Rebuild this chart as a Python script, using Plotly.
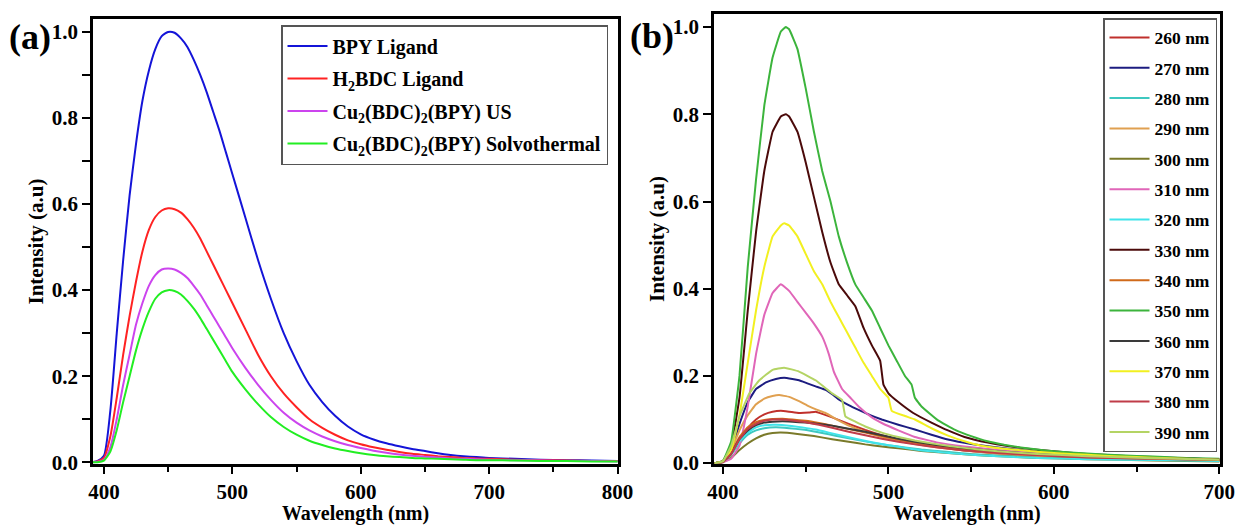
import plotly.graph_objects as go

FONT = "Liberation Serif"

# ---------------- Panel (a) data ----------------
wl_a = [390, 395, 400, 405, 410, 415, 420, 425, 430, 435, 440, 445, 450, 455, 460, 465, 470,
        475, 480, 485, 490, 495, 500, 510, 520, 530, 540, 550, 560, 570, 580, 590, 600, 610,
        620, 630, 640, 650, 660, 670, 680, 690, 700, 720, 740, 760, 780, 800]
bpy = [0.0, 0.003, 0.015, 0.12, 0.30, 0.47, 0.62, 0.74, 0.84, 0.91, 0.96, 0.99, 1.0, 0.998,
       0.985, 0.965, 0.935, 0.90, 0.86, 0.815, 0.77, 0.72, 0.67, 0.57, 0.47, 0.38, 0.30, 0.235,
       0.18, 0.14, 0.108, 0.083, 0.065, 0.053, 0.044, 0.037, 0.031, 0.026, 0.021, 0.017, 0.014,
       0.012, 0.010, 0.008, 0.006, 0.005, 0.004, 0.003]
h2bdc = [0.0, 0.002, 0.01, 0.06, 0.15, 0.25, 0.34, 0.42, 0.49, 0.54, 0.57, 0.585, 0.59, 0.588,
         0.58, 0.565, 0.545, 0.52, 0.49, 0.46, 0.43, 0.40, 0.37, 0.31, 0.25, 0.20, 0.16, 0.128,
         0.10, 0.08, 0.064, 0.051, 0.042, 0.035, 0.029, 0.024, 0.02, 0.017, 0.014, 0.012, 0.010,
         0.009, 0.008, 0.006, 0.005, 0.004, 0.003, 0.003]
cu_us = [0.0, 0.001, 0.006, 0.035, 0.10, 0.18, 0.25, 0.32, 0.37, 0.41, 0.435, 0.448, 0.45, 0.448,
         0.44, 0.428, 0.41, 0.39, 0.365, 0.34, 0.315, 0.29, 0.265, 0.22, 0.18, 0.145, 0.115, 0.092,
         0.074, 0.06, 0.049, 0.04, 0.033, 0.027, 0.022, 0.018, 0.015, 0.013, 0.011, 0.009, 0.008,
         0.007, 0.006, 0.005, 0.004, 0.003, 0.003, 0.002]
cu_solvo = [0.0, 0.0, 0.004, 0.025, 0.075, 0.14, 0.20, 0.26, 0.31, 0.35, 0.38, 0.395, 0.40, 0.398,
            0.39, 0.375, 0.357, 0.335, 0.31, 0.285, 0.26, 0.235, 0.21, 0.17, 0.135, 0.105, 0.082,
            0.064, 0.05, 0.04, 0.032, 0.026, 0.021, 0.017, 0.014, 0.012, 0.010, 0.009, 0.008, 0.007,
            0.006, 0.005, 0.005, 0.004, 0.003, 0.003, 0.002, 0.002]

names_a = ["BPY Ligand", "H<sub>2</sub>BDC Ligand", "Cu<sub>2</sub>(BDC)<sub>2</sub>(BPY) US",
           "Cu<sub>2</sub>(BDC)<sub>2</sub>(BPY) Solvothermal"]
series_a = [bpy, h2bdc, cu_us, cu_solvo]
colors_a = ["#1414d8", "#ff2222", "#cc44ee", "#22ee22"]

# ---------------- Panel (b) data ----------------
wl_260 = [395, 400, 405, 410, 415, 420, 425, 430, 435, 440, 446, 452, 456, 460, 466, 476, 486, 496,
          506, 516, 530, 546, 566, 586, 610, 640, 670, 700]
int_260 = [0, 0.003, 0.02, 0.05, 0.08, 0.10, 0.112, 0.118, 0.12, 0.118, 0.115, 0.116, 0.118, 0.113,
           0.105, 0.09, 0.076, 0.064, 0.054, 0.046, 0.037, 0.029, 0.022, 0.017, 0.013, 0.010, 0.008, 0.006]
wl_270 = [395, 400, 405, 410, 415, 420, 426, 432, 437, 442, 446, 451, 456, 462, 466, 470, 476, 482,
          489, 496, 506, 516, 526, 536, 550, 570, 590, 610, 640, 670, 700]
int_270 = [0, 0.004, 0.03, 0.09, 0.14, 0.17, 0.185, 0.193, 0.196, 0.193, 0.19, 0.183, 0.176, 0.168,
           0.158, 0.146, 0.133, 0.122, 0.11, 0.10, 0.088, 0.077, 0.065, 0.054, 0.044, 0.034, 0.026,
           0.02, 0.015, 0.011, 0.008]
wl_280 = [395, 400, 405, 410, 415, 420, 425, 432, 440, 448, 456, 464, 472, 480, 490, 500, 510, 520,
          535, 550, 570, 590, 620, 660, 700]
int_280 = [0, 0.003, 0.02, 0.045, 0.065, 0.075, 0.08, 0.082, 0.08, 0.077, 0.072, 0.066, 0.06, 0.054,
           0.047, 0.041, 0.036, 0.031, 0.026, 0.021, 0.017, 0.014, 0.011, 0.008, 0.006]
wl_290 = [395, 400, 405, 410, 415, 420, 425, 430, 434, 440, 446, 452, 457, 462, 469, 476, 486, 496,
          506, 516, 530, 546, 566, 590, 620, 660, 700]
int_290 = [0, 0.004, 0.03, 0.075, 0.11, 0.135, 0.148, 0.154, 0.156, 0.152, 0.142, 0.13, 0.122, 0.115,
           0.10, 0.086, 0.072, 0.06, 0.051, 0.044, 0.036, 0.029, 0.022, 0.017, 0.012, 0.009, 0.006]
wl_300 = [395, 400, 405, 410, 415, 420, 425, 430, 435, 445, 455, 466, 476, 486, 496, 506, 520, 540,
          560, 590, 620, 660, 700]
int_300 = [0, 0.002, 0.012, 0.03, 0.045, 0.057, 0.065, 0.069, 0.07, 0.067, 0.062, 0.055, 0.049, 0.043,
           0.038, 0.034, 0.028, 0.022, 0.017, 0.012, 0.009, 0.006, 0.004]
wl_310 = [395, 400, 405, 410, 415, 420, 425, 430, 435, 440, 445, 450, 455, 460, 464, 467, 472, 477,
          482, 490, 496, 506, 516, 530, 546, 566, 586, 610, 630, 660, 700]
int_310 = [0, 0.002, 0.01, 0.04, 0.13, 0.25, 0.34, 0.39, 0.41, 0.395, 0.37, 0.345, 0.32, 0.29, 0.25,
           0.21, 0.17, 0.15, 0.13, 0.105, 0.092, 0.075, 0.06, 0.047, 0.038, 0.03, 0.024, 0.019, 0.016,
           0.012, 0.008]
wl_320 = wl_280
int_320 = [0, 0.003, 0.022, 0.05, 0.07, 0.082, 0.087, 0.088, 0.086, 0.082, 0.077, 0.07, 0.063, 0.056,
           0.048, 0.041, 0.035, 0.029, 0.024, 0.019, 0.015, 0.012, 0.009, 0.007, 0.005]
wl_330 = [395, 400, 405, 410, 415, 420, 425, 430, 435, 438, 440, 445, 450, 455, 460, 465, 470, 475,
          480, 485, 490, 495, 497, 500, 506, 515, 526, 536, 546, 560, 580, 600, 620, 640, 660, 680, 700]
int_330 = [0, 0.005, 0.04, 0.15, 0.35, 0.53, 0.67, 0.76, 0.795, 0.80, 0.795, 0.76, 0.69, 0.61, 0.53,
           0.46, 0.41, 0.385, 0.36, 0.31, 0.27, 0.235, 0.18, 0.16, 0.14, 0.115, 0.093, 0.075, 0.06,
           0.047, 0.035, 0.027, 0.021, 0.017, 0.014, 0.011, 0.008]
wl_340 = [395, 400, 405, 410, 415, 420, 425, 430, 436, 442, 450, 458, 466, 476, 486, 496, 506, 516,
          530, 546, 566, 590, 620, 660, 700]
int_340 = [0, 0.003, 0.025, 0.06, 0.082, 0.094, 0.099, 0.101, 0.102, 0.10, 0.097, 0.092, 0.086, 0.078,
           0.07, 0.062, 0.054, 0.047, 0.039, 0.032, 0.025, 0.019, 0.014, 0.010, 0.007]
wl_350 = [395, 400, 405, 410, 415, 420, 425, 430, 435, 438, 440, 445, 450, 455, 460, 465, 470, 475,
          480, 485, 490, 495, 500, 505, 510, 514, 516, 520, 530, 540, 550, 560, 570, 580, 590, 600,
          620, 640, 660, 680, 700]
int_350 = [0, 0.005, 0.05, 0.2, 0.45, 0.65, 0.82, 0.93, 0.99, 1.0, 0.995, 0.95, 0.86, 0.76, 0.67,
           0.6, 0.52, 0.46, 0.41, 0.38, 0.35, 0.31, 0.27, 0.235, 0.2, 0.18, 0.15, 0.13, 0.098, 0.077,
           0.062, 0.05, 0.042, 0.036, 0.031, 0.027, 0.022, 0.018, 0.015, 0.012, 0.010]
wl_360 = wl_340
int_360 = [0, 0.003, 0.022, 0.055, 0.075, 0.087, 0.093, 0.095, 0.096, 0.095, 0.093, 0.09, 0.086,
           0.079, 0.072, 0.064, 0.056, 0.049, 0.041, 0.034, 0.027, 0.021, 0.016, 0.012, 0.009]
wl_370 = [395, 400, 405, 410, 415, 420, 425, 430, 435, 437, 440, 445, 450, 455, 460, 465, 470, 475,
          480, 485, 490, 495, 500, 502, 510, 516, 526, 536, 546, 556, 570, 590, 610, 630, 650, 670, 700]
int_370 = [0, 0.004, 0.03, 0.11, 0.23, 0.35, 0.45, 0.52, 0.545, 0.55, 0.545, 0.52, 0.48, 0.44, 0.41,
           0.37, 0.335, 0.30, 0.265, 0.23, 0.20, 0.17, 0.15, 0.12, 0.108, 0.10, 0.08, 0.063, 0.05,
           0.04, 0.033, 0.026, 0.021, 0.017, 0.014, 0.011, 0.008]
wl_380 = wl_340
int_380 = [0, 0.003, 0.022, 0.055, 0.078, 0.09, 0.097, 0.10, 0.10, 0.098, 0.094, 0.088, 0.081, 0.072,
           0.064, 0.056, 0.049, 0.043, 0.036, 0.029, 0.023, 0.018, 0.013, 0.010, 0.007]
wl_390 = [395, 400, 405, 410, 416, 422, 430, 437, 446, 456, 466, 472, 474, 480, 486, 496, 506, 516,
          530, 546, 566, 590, 620, 660, 700]
int_390 = [0, 0.004, 0.04, 0.107, 0.16, 0.19, 0.214, 0.219, 0.21, 0.19, 0.16, 0.145, 0.107, 0.095,
           0.084, 0.07, 0.06, 0.052, 0.043, 0.035, 0.027, 0.021, 0.016, 0.011, 0.008]

names_b = ["260 nm", "270 nm", "280 nm", "290 nm", "300 nm", "310 nm", "320 nm", "330 nm",
           "340 nm", "350 nm", "360 nm", "370 nm", "380 nm", "390 nm"]
wl_b = [wl_260, wl_270, wl_280, wl_290, wl_300, wl_310, wl_320, wl_330, wl_340, wl_350, wl_360,
        wl_370, wl_380, wl_390]
int_b = [int_260, int_270, int_280, int_290, int_300, int_310, int_320, int_330, int_340, int_350,
         int_360, int_370, int_380, int_390]
colors_b = ["#c0302c", "#1c1c80", "#3ec8c0", "#e0a050", "#7a7a2a", "#e066b8", "#40e4ea", "#4b0a0a",
            "#d06a1a", "#3cb43c", "#3a3a3a", "#f2f020", "#c03c48", "#b4d464"]

fig = go.Figure()

for i, (nm, ys, c) in enumerate(zip(names_a, series_a, colors_a)):
    fig.add_trace(go.Scatter(x=wl_a, y=ys, name=nm, mode="lines",
                             line=dict(color=c, width=2, shape="spline", smoothing=0.6),
                             xaxis="x", yaxis="y", legend="legend", legendgroup="a%d" % i))

for i, (nm, xs, ys, c) in enumerate(zip(names_b, wl_b, int_b, colors_b)):
    fig.add_trace(go.Scatter(x=xs, y=ys, name=nm, mode="lines",
                             line=dict(color=c, width=2, shape="spline", smoothing=0.3),
                             xaxis="x2", yaxis="y2", legend="legend2", legendgroup="b%d" % i))

W, H = 1237, 525
tickfont = dict(family=FONT, size=21, color="black", weight="bold")
titlefont = dict(family=FONT, size=21, color="black", weight="bold")
xtitlefont = dict(family=FONT, size=20, color="black", weight="bold")


def axis_common():
    return dict(showline=True, linecolor="black", linewidth=2.5, mirror=True,
                ticks="outside", ticklen=8, tickwidth=2, tickcolor="black",
                showgrid=False, zeroline=False, tickfont=tickfont, automargin=False,
                ticklabeloverflow="allow")


xa = axis_common()
xa.update(domain=[93 / W, 618 / W], range=[391.5, 800.3], tickvals=[400, 500, 600, 700, 800],
          ticklen=7,
          minor=dict(ticks="outside", ticklen=5, tickwidth=2, tickcolor="black",
                     tickvals=[450, 550, 650, 750]),
          title=dict(text="Wavelength (nm)", font=xtitlefont, standoff=10), anchor="y")
ya = axis_common()
ya.update(domain=[1 - 464 / H, 1 - 19 / H], range=[-0.004, 1.03],
          tickvals=[0, 0.2, 0.4, 0.6, 0.8, 1.0], ticktext=["0.0", "0.2", "0.4", "0.6", "0.8", "1.0"],
          minor=dict(ticks="outside", ticklen=8, tickwidth=2, tickcolor="black",
                     tickvals=[0.1, 0.3, 0.5, 0.7, 0.9]),
          title=dict(text="Intensity (a.u)", font=titlefont, standoff=3), anchor="x")
xb = axis_common()
xb.update(domain=[714 / W, 1220 / W], range=[394.6, 700.4], tickvals=[400, 500, 600, 700],
          ticklen=7,
          minor=dict(ticks="outside", ticklen=5, tickwidth=2, tickcolor="black",
                     tickvals=[450, 550, 650]),
          title=dict(text="Wavelength (nm)", font=xtitlefont, standoff=10), anchor="y2")
yb = axis_common()
yb.update(domain=[1 - 464 / H, 1 - 14 / H], range=[-0.002, 1.03],
          tickvals=[0, 0.2, 0.4, 0.6, 0.8, 1.0], ticktext=["0.0", "0.2", "0.4", "0.6", "0.8", "1.0"],
          title=dict(text="Intensity (a.u)", font=titlefont, standoff=3), anchor="x2")

fig.update_layout(
    width=W, height=H,
    margin=dict(l=0, r=0, t=0, b=0),
    paper_bgcolor="white", plot_bgcolor="white",
    xaxis=xa, yaxis=ya, xaxis2=xb, yaxis2=yb,
    showlegend=True,
    legend=dict(x=281 / W, y=1 - 25 / H, xanchor="left", yanchor="top",
                bgcolor="white", bordercolor="#555555", borderwidth=1.5,
                font=dict(family=FONT, size=20, color="black", weight="bold"),
                tracegroupgap=3.5, itemwidth=40),
    legend2=dict(x=1103 / W, y=1 - 18 / H, xanchor="left", yanchor="top",
                 bgcolor="white", bordercolor="#555555", borderwidth=1.5,
                 font=dict(family=FONT, size=17.5, color="black", weight="bold"),
                 tracegroupgap=4.6, itemwidth=40),
    annotations=[
        dict(text="(a)", x=30 / W, y=1 - 37 / H, xref="paper", yref="paper", showarrow=False,
             xanchor="center", yanchor="middle",
             font=dict(family=FONT, size=36, color="black", weight="bold")),
        dict(text="(b)", x=652 / W, y=1 - 36 / H, xref="paper", yref="paper", showarrow=False,
             xanchor="center", yanchor="middle",
             font=dict(family=FONT, size=36, color="black", weight="bold")),
    ],
)

fig.write_html("out.html", config={"displayModeBar": False},
               post_script="document.body.style.margin='0';document.body.style.overflow='hidden';")
